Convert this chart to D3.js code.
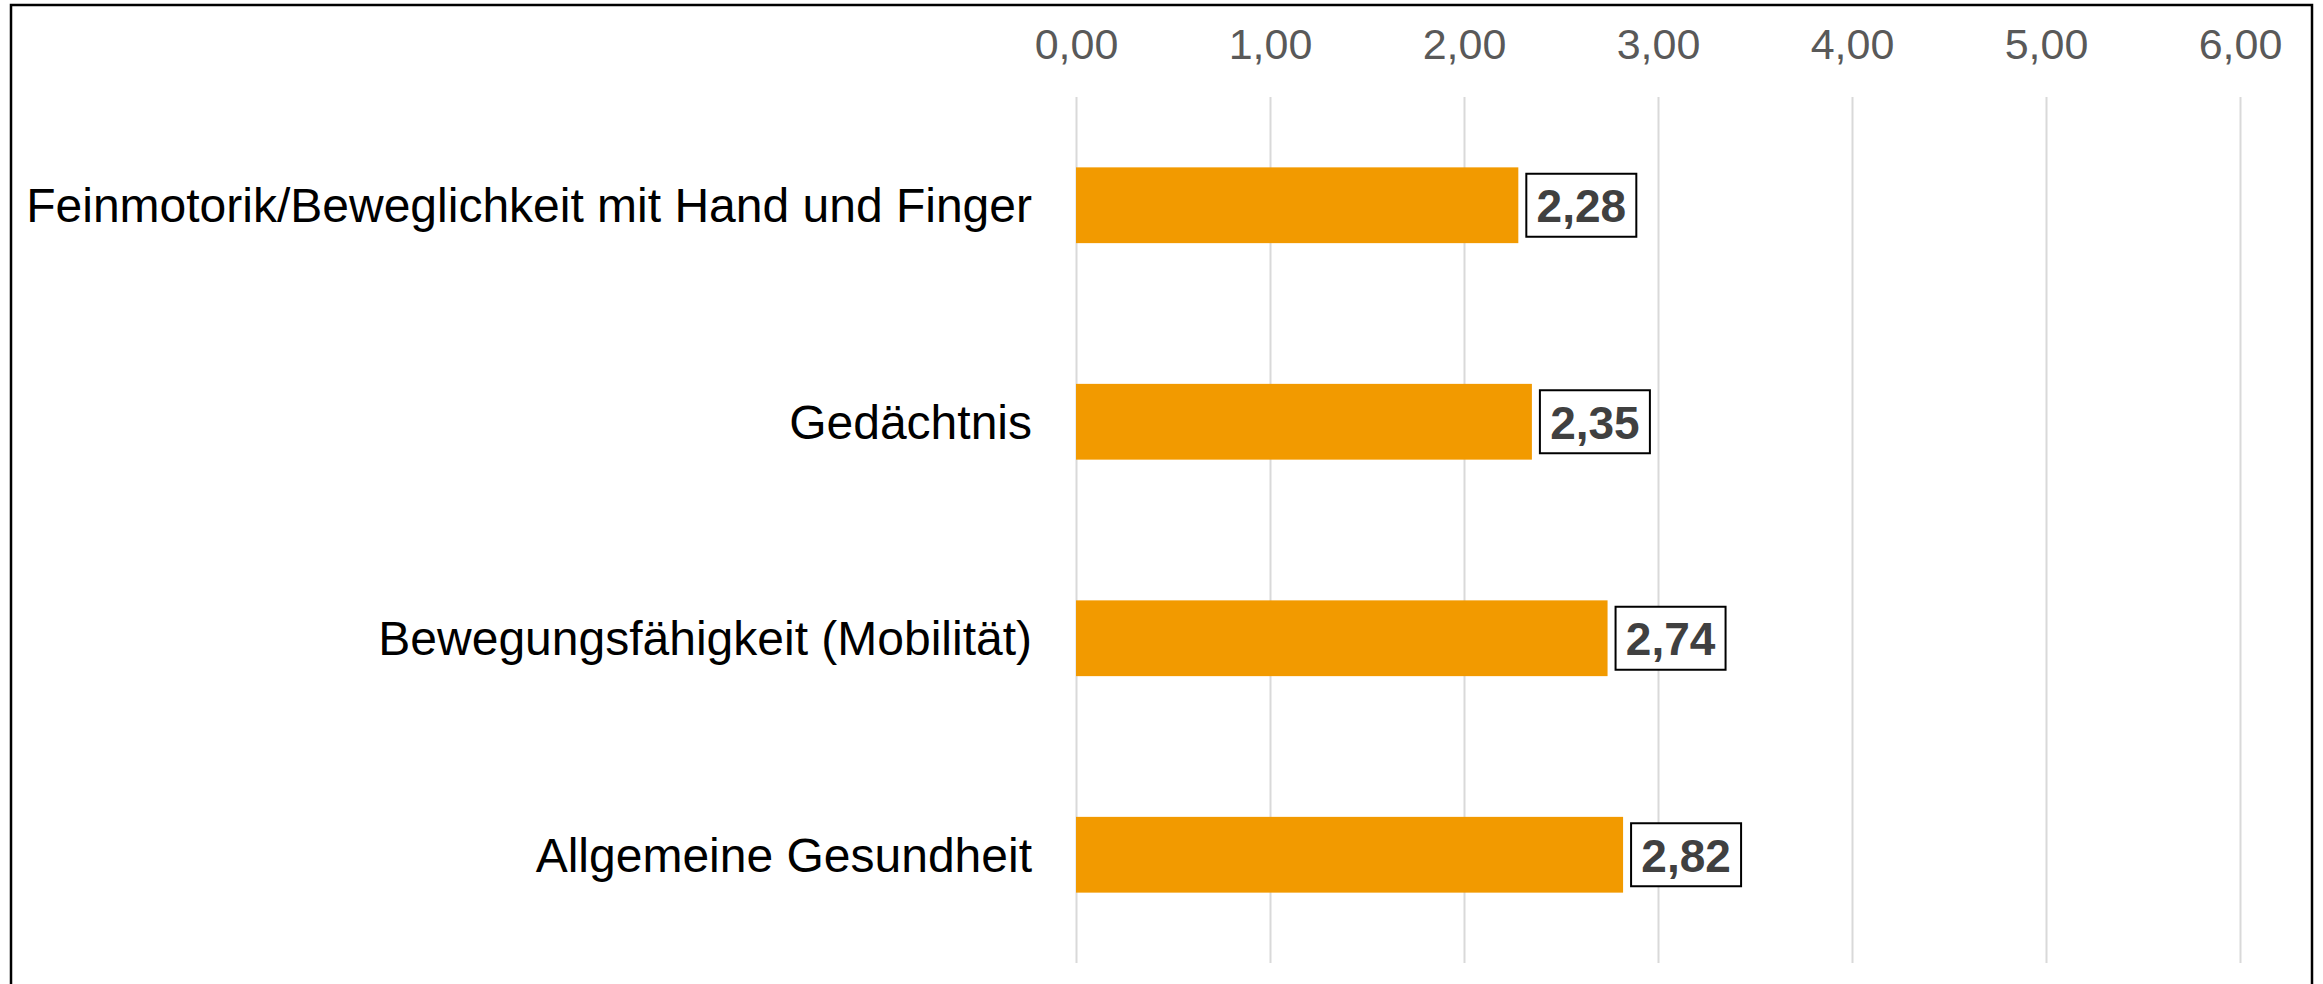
<!DOCTYPE html>
<html>
<head>
<meta charset="utf-8">
<script src="https://cdn.jsdelivr.net/npm/d3@7"></script>
<style>
    body { margin: 0; background: #fff; }
    svg { display: block; font-family: "Liberation Sans", Arial, sans-serif; }
</style>
</head>
<body>
<div id="chart"></div>
<script>
// Chart data
const categories = [
    "Feinmotorik/Beweglichkeit mit Hand und Finger",
    "Gedächtnis",
    "Bewegungsfähigkeit (Mobilität)",
    "Allgemeine Gesundheit"
];
const values = [2.28, 2.35, 2.74, 2.82];
const tickValues = [0, 1, 2, 3, 4, 5, 6];

const width = 2323, height = 984;
const fontFamily = "'Liberation Sans', Arial, sans-serif";

// German number format (decimal comma)
const de = d3.formatLocale({ decimal: ",", thousands: ".", grouping: [3], currency: ["", " €"] });
const fmt = de.format(".2f");

const svg = d3.select("#chart")
    .append("svg")
    .attr("width", width)
    .attr("height", height);

// Outer frame
svg.append("rect")
    .attr("x", 11)
    .attr("y", 5)
    .attr("width", 2301)
    .attr("height", 1000)
    .attr("fill", "#fff")
    .attr("stroke", "#000")
    .attr("stroke-width", 2.5);

// Scales
const x = d3.scaleLinear().domain([0, 6]).range([1076, 2240]);
const y = d3.scaleBand()
    .domain(categories)
    .range([97, 963])
    .paddingInner(0.65)
    .paddingOuter(0.325);

// Gridlines
const grid = svg.append("g")
    .attr("transform", `translate(0,${y.range()[0]})`)
    .call(d3.axisBottom(x)
        .tickValues(tickValues)
        .tickSize(y.range()[1] - y.range()[0])
        .tickFormat(""));
grid.select(".domain").remove();
grid.selectAll(".tick line")
    .attr("stroke", "#d9d9d9")
    .attr("stroke-width", 2);

// Top tick labels
const xAxisG = svg.append("g")
    .attr("transform", "translate(0,59)")
    .call(d3.axisTop(x)
        .tickValues(tickValues)
        .tickSize(0)
        .tickPadding(0)
        .tickFormat(fmt));
xAxisG.select(".domain").remove();
xAxisG.selectAll("text")
    .attr("fill", "#595959")
    .style("font-family", fontFamily)
    .style("font-size", "43px");

const rows = categories.map((c, i) => ({ cat: c, val: values[i] }));

// Category labels
svg.selectAll(".cat-label")
    .data(rows)
    .join("text")
    .attr("class", "cat-label")
    .attr("x", 1032)
    .attr("y", d => y(d.cat) + y.bandwidth() / 2 + 17)
    .attr("text-anchor", "end")
    .attr("fill", "#000")
    .style("font-family", fontFamily)
    .style("font-size", "48px")
    .text(d => d.cat);

// Bars
svg.selectAll(".bar")
    .data(rows)
    .join("rect")
    .attr("class", "bar")
    .attr("x", x(0))
    .attr("y", d => y(d.cat))
    .attr("width", d => x(d.val) - x(0))
    .attr("height", y.bandwidth())
    .attr("fill", "#f29a00");

// Value labels in boxes
const boxW = 110, boxH = 63;
const lab = svg.selectAll(".val-label")
    .data(rows)
    .join("g")
    .attr("class", "val-label")
    .attr("transform", d => `translate(${x(d.val) + 8},${y(d.cat) + y.bandwidth() / 2 - boxH / 2})`);

lab.append("rect")
    .attr("width", boxW)
    .attr("height", boxH)
    .attr("fill", "#fff")
    .attr("stroke", "#000")
    .attr("stroke-width", 2);

lab.append("text")
    .attr("x", boxW / 2)
    .attr("y", boxH / 2 + 17)
    .attr("text-anchor", "middle")
    .attr("fill", "#404040")
    .style("font-family", fontFamily)
    .style("font-size", "46px")
    .style("font-weight", "bold")
    .text(d => fmt(d.val));
</script>
</body>
</html>
